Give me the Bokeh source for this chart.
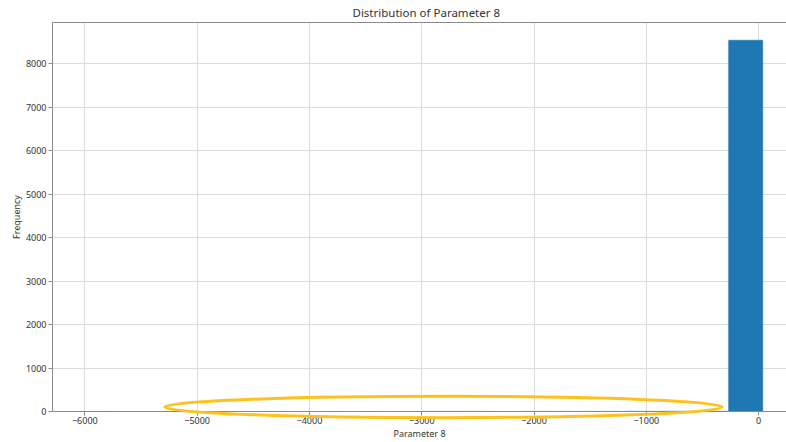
from bokeh.plotting import figure
from bokeh.models import FixedTicker, LinearAxis, Range1d
from bokeh.embed import file_html
from bokeh.resources import INLINE

# ---- data ----
bin_edges = [-6024, -5721, -5418, -5115, -4812, -4509, -4206, -3903, -3600, -3297,
             -2994, -2691, -2388, -2085, -1782, -1479, -1176, -873, -570, -267, 36]
counts = [1, 0, 0, 0, 0, 0, 0, 0, 0, 0,
          2, 2, 0, 2, 2, 2, 4, 4, 5, 8540]
x_ticks = [-6000, -5000, -4000, -3000, -2000, -1000, 0]
x_tick_labels = ["\u22126000", "\u22125000", "\u22124000", "\u22123000", "\u22122000", "\u22121000", "0"]
y_ticks = [0, 1000, 2000, 3000, 4000, 5000, 6000, 7000, 8000]
y_tick_labels = ["0", "1000", "2000", "3000", "4000", "5000", "6000", "7000", "8000"]

# highlight ellipse annotation (centre and full axes, data units)
ellipse_cx = [-2807]
ellipse_cy = [104]
ellipse_w = 4960
ellipse_h = 490

FONT = "Noto Sans"
TEXT = "#333333"
SPINE = "#8a8a8a"

p = figure(width=786, height=442, output_backend="svg", toolbar_location=None,
           x_range=Range1d(-6288, 248), y_range=Range1d(0, 8948),
           min_border_left=52, min_border_right=0, min_border_top=8, min_border_bottom=0,
           title="Distribution of Parameter 8")

p.title.align = "left"
p.title.offset = 300
p.title.text_font = FONT
p.title.text_font_size = "11.5px"
p.title.text_font_style = "normal"
p.title.text_color = TEXT
p.title.standoff = 5

p.quad(left=bin_edges[:-1], right=bin_edges[1:], bottom=0, top=counts,
       fill_color="#1f77b4", line_color="#1f77b4", line_width=0.6)

ring = p.ellipse(x=ellipse_cx, y=ellipse_cy, width=ellipse_w, height=ellipse_h,
                 fill_color=None, line_color="#FFC21A", line_width=3)
ring.level = "overlay"

p.outline_line_color = None
for ax in (p.xaxis[0], p.yaxis[0]):
    ax.major_label_text_font = FONT
    ax.major_label_text_font_size = "9px"
    ax.major_label_text_color = TEXT
    ax.axis_label_text_font = FONT
    ax.axis_label_text_font_size = "9px"
    ax.axis_label_text_font_style = "normal"
    ax.axis_label_text_color = TEXT
    ax.axis_line_color = SPINE
    ax.major_tick_line_color = SPINE
    ax.major_tick_out = 4
    ax.major_tick_in = 0
    ax.minor_tick_line_color = None
    ax.major_label_standoff = 2

p.xaxis[0].ticker = FixedTicker(ticks=x_ticks)
p.xaxis[0].major_label_overrides = dict(zip(x_ticks, x_tick_labels))
p.xaxis[0].axis_label = "Parameter 8"
p.xaxis[0].axis_label_standoff = 0
p.xaxis[0].major_label_standoff = 1
p.yaxis[0].ticker = FixedTicker(ticks=y_ticks)
p.yaxis[0].major_label_overrides = dict(zip(y_ticks, y_tick_labels))
p.yaxis[0].axis_label = "Frequency"
p.yaxis[0].axis_label_standoff = 0

top_axis = LinearAxis(ticker=FixedTicker(ticks=[]), axis_line_color=SPINE,
                      major_tick_line_color=None, minor_tick_line_color=None,
                      major_label_text_font_size="0px")
p.add_layout(top_axis, "above")

p.xgrid.ticker = FixedTicker(ticks=x_ticks)
p.ygrid.ticker = FixedTicker(ticks=y_ticks)
p.grid.grid_line_color = "#dcdcdc"

p.background_fill_color = "white"
p.border_fill_color = "white"

open("out.html", "w").write(file_html(p, INLINE))
